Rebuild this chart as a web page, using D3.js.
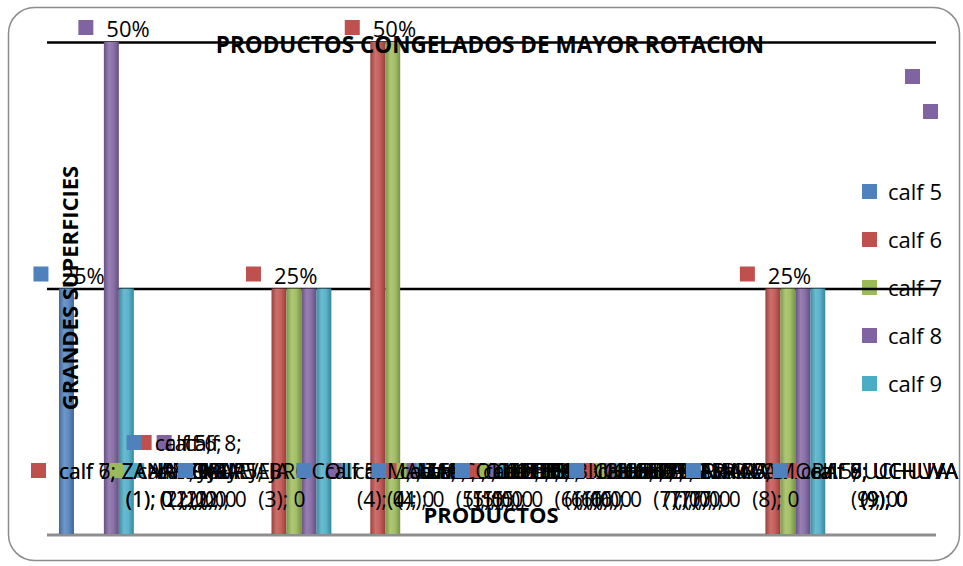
<!DOCTYPE html>
<html><head><meta charset="utf-8">
<script src="https://cdn.jsdelivr.net/npm/d3@7"></script>
<style>
html,body{margin:0;padding:0;background:#fff;}
svg{display:block;font-family:"Open Sans",sans-serif;}
</style></head>
<body><svg id="chart" width="963" height="566"></svg>
<script>
const categories = ["ZANAHORIA","ARVEJA","BROCOLI","MAIZ","COLIFLOR","HABICHUELA","ESPINACA","MORA","UCHUVA"];
const seriesNames = ["calf 5","calf 6","calf 7","calf 8","calf 9"];
const seriesColors = ["#4F81BD","#C0504D","#9BBB59","#8064A2","#4BACC6"];
// values per series (fraction), one entry per category
const calf5 = [0.25,0,0,0,0,0,0,0,0];
const calf6 = [0,0,0.25,0.5,0,0,0,0.25,0];
const calf7 = [0,0,0.25,0.5,0,0,0,0.25,0];
const calf8 = [0.5,0,0.25,0,0,0,0,0.25,0];
const calf9 = [0.25,0,0.25,0,0,0,0,0.25,0];
const values = [calf5,calf6,calf7,calf8,calf9];
const yTicks = [0.25,0.5];
// value labels that are shown as "key + percent": [seriesIndex, categoryIndex]
const pctLabels = [[0,0],[3,0],[1,2],[1,3],[1,7]];
// zero labels wrapped in three lines: [seriesIndex, categoryIndex]
const threeLine = [[0,1],[1,1],[3,1]];
const title = "PRODUCTOS CONGELADOS DE MAYOR ROTACION";
const xTitle = "PRODUCTOS";
const yTitle = "GRANDES SUPERFICIES";

const svg = d3.select("#chart");
const W = 963, H = 566;
const plot = {l:47, r:936, t:42, b:535};

// outer border
svg.append("rect").attr("x",8.5).attr("y",7.5).attr("width",W-12).attr("height",H-13)
  .attr("rx",26).attr("ry",26).attr("fill","#fff").attr("stroke","#8c8c8c").attr("stroke-width",1.5);

const x0 = d3.scaleBand().domain(categories.map((c,i)=>i)).range([plot.l, plot.r]).paddingInner(0).paddingOuter(0);
const x1 = d3.scaleBand().domain(seriesNames.map((s,i)=>i)).range([0, x0.bandwidth()]).paddingOuter(0.8).paddingInner(0);
const y = d3.scaleLinear().domain([0,0.5]).range([plot.b, plot.t]);

// gradients
const defs = svg.append("defs");
seriesColors.forEach((c,i)=>{
  const g = defs.append("linearGradient").attr("id","g"+i).attr("x1","0").attr("x2","1").attr("y1","0").attr("y2","0");
  const base = d3.color(c);
  g.append("stop").attr("offset","0%").attr("stop-color",base.darker(0.6));
  g.append("stop").attr("offset","35%").attr("stop-color",d3.interpolateRgb(c,"#ffffff")(0.18));
  g.append("stop").attr("offset","65%").attr("stop-color",d3.interpolateRgb(c,"#ffffff")(0.08));
  g.append("stop").attr("offset","100%").attr("stop-color",base.darker(0.7));
});

// legend
const leg = svg.append("g");
seriesNames.forEach((s,i)=>{
  const yy = 184 + i*48;
  leg.append("rect").attr("x",862).attr("y",yy).attr("width",15).attr("height",15).attr("fill",seriesColors[i]);
  leg.append("text").attr("x",888).attr("y",yy+16).attr("font-size",22).attr("fill","#000").text(s);
});

// gridlines
const yAxis = d3.axisLeft(y).tickValues(yTicks).tickSize(-(plot.r-plot.l)).tickFormat("");
const ga = svg.append("g").attr("transform",`translate(${plot.l},0)`).call(yAxis);
ga.select(".domain").remove();
ga.selectAll(".tick line").attr("stroke","#000").attr("stroke-width",2.5);

// baseline
svg.append("line").attr("x1",plot.l).attr("x2",plot.r).attr("y1",plot.b).attr("y2",plot.b)
  .attr("stroke","#8e8e8e").attr("stroke-width",3);

// bars
const barData = [];
values.forEach((arr,s)=>arr.forEach((v,c)=>barData.push({s,c,v})));
svg.append("g").selectAll("rect").data(barData.filter(d=>d.v>0)).join("rect")
  .attr("x",d=>x0(d.c)+x1(d.s)).attr("width",x1.bandwidth())
  .attr("y",d=>y(d.v)).attr("height",d=>y(0)-y(d.v)-1)
  .attr("fill",d=>`url(#g${d.s})`);

// title (drawn over bars)
svg.append("text").attr("x",490).attr("y",53).attr("text-anchor","middle")
  .attr("font-weight","bold").attr("font-size",22.5).attr("fill","#000").text(title);

// y title
svg.append("text").attr("transform",`translate(78,${288}) rotate(-90)`).attr("text-anchor","middle")
  .attr("font-weight","bold").attr("font-size",22).attr("fill","#000").text(yTitle);

// percent labels
const fmt = d3.format(".0%");
const lab = svg.append("g");
pctLabels.forEach(([s,c])=>{
  const v = values[s][c];
  const cx = x0(c)+x1(s)+x1.bandwidth()/2;
  const by = y(v)-5;
  lab.append("rect").attr("x",cx-33).attr("y",by-17).attr("width",15).attr("height",15).attr("fill",seriesColors[s]);
  lab.append("text").attr("x",cx-5).attr("y",by).attr("font-size",22).attr("fill","#000").text(fmt(v));
});

// zero labels (drawn from last series to first so the first sits on top)
const isThree = (s,c)=>threeLine.some(d=>d[0]===s&&d[1]===c);
barData.filter(d=>d.v===0).sort((a,b)=>b.s-a.s).forEach(d=>{
  let cx = x0(d.c)+x0.bandwidth()/2 + (d.s-2)*10 + 8;
  let lines;
  if (isThree(d.s,d.c)) lines = [seriesNames[d.s]+";", categories[d.c], `(${d.c+1}); 0`];
  else lines = [seriesNames[d.s]+"; "+categories[d.c], `(${d.c+1}); 0`];
  const baseY = 507 - (lines.length-1)*28;
  const g = lab.append("g");
  const ts = lines.map((t,k)=>g.append("text").attr("y",baseY+k*28).attr("text-anchor","middle")
      .attr("font-size",21).attr("fill","#000").text(t));
  const w0 = ts[0].node().getComputedTextLength();
  // keep label inside the chart box
  const minC = 27 + 32 + w0/2;
  const maxC = 958 - w0/2;
  cx = Math.max(minC, Math.min(maxC, cx));
  ts.forEach(t=>t.attr("x",cx));
  g.insert("rect","text").attr("x",cx-w0/2-28).attr("y",baseY-16).attr("width",15).attr("height",15).attr("fill",seriesColors[d.s]);
});

// stray label keys (purple)
[[905,69],[923,104]].forEach(([a,b])=>{
  lab.append("rect").attr("x",a).attr("y",b).attr("width",15).attr("height",15).attr("fill",seriesColors[3]);
});

// x title
svg.append("text").attr("x",491).attr("y",523).attr("text-anchor","middle")
  .attr("font-weight","bold").attr("font-size",22).attr("fill","#000").text(xTitle);
</script>
</body></html>
